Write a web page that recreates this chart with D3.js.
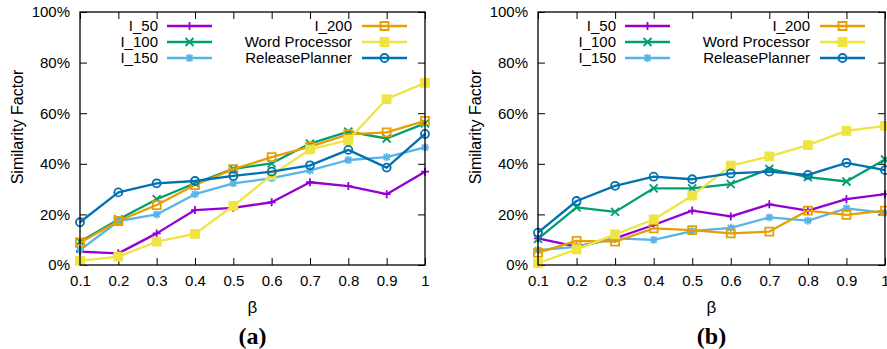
<!DOCTYPE html>
<html>
<head>
<meta charset="utf-8">
<script src="https://cdn.jsdelivr.net/npm/d3@7"></script>
<style>
  body { margin: 0; background: #fff; }
  text { font-family: "Liberation Sans", Arial, sans-serif; }
</style>
</head>
<body>
<div id="chart"></div>
<script>
// Chart dimensions.
const w = 887;
const h = 349;
const marginTop = 12;
const plotBottom = 265;

// Data
const betas = [0.1, 0.2, 0.3, 0.4, 0.5, 0.6, 0.7, 0.8, 0.9, 1.0];
const seriesNames = ["I_50", "I_100", "I_150", "I_200", "Word Processor", "ReleasePlanner"];
const seriesColors = ["#9400d3", "#009e73", "#56b4e9", "#e69f00", "#f0e442", "#0072b2"];
const seriesMarks = ["plus", "cross", "star", "square", "fsquare", "circle"];
const yTicks = [0, 20, 40, 60, 80, 100];

// panel (a)
const a_I50 = [5.3, 4.6, 12.5, 21.7, 22.6, 24.8, 32.7, 31.2, 28.0, 36.9];
const a_I100 = [9.2, 18.0, 26.0, 32.3, 38.0, 40.2, 48.0, 52.7, 50.0, 56.0];
const a_I150 = [5.9, 17.3, 20.0, 28.0, 32.3, 34.3, 37.4, 41.5, 42.6, 46.5];
const a_I200 = [8.8, 17.4, 23.7, 31.6, 37.9, 42.6, 46.8, 51.6, 52.4, 57.0];
const a_WP = [1.6, 3.3, 9.2, 12.3, 23.4, 35.5, 45.7, 49.4, 65.6, 72.0];
const a_RP = [16.9, 28.7, 32.3, 33.2, 35.2, 36.9, 39.4, 45.5, 38.5, 51.8];

// panel (b)
const b_I50 = [10.5, 7.3, 10.5, 15.8, 21.5, 19.2, 24.0, 21.5, 26.0, 28.0];
const b_I100 = [10.3, 22.8, 21.0, 30.3, 30.3, 32.0, 38.0, 34.7, 33.0, 41.7];
const b_I150 = [5.9, 7.2, 10.5, 9.9, 13.4, 14.7, 18.8, 17.5, 22.4, 20.6];
const b_I200 = [4.9, 9.5, 9.2, 14.5, 13.8, 12.5, 13.2, 21.5, 19.8, 21.5];
const b_WP = [0.7, 6.2, 12.1, 18.0, 27.4, 39.3, 42.9, 47.4, 53.0, 55.0];
const b_RP = [12.8, 25.3, 31.3, 34.9, 33.9, 36.2, 36.9, 35.6, 40.4, 37.5];

const svg = d3.select("#chart")
  .append("svg")
  .attr("width", w)
  .attr("height", h)
  .attr("viewBox", [0, 0, w, h]);

// marker paths (gnuplot point types 1..6)
function markPath(type) {
  const s = 4;
  switch (type) {
    case "plus": return `M${-s},0H${s}M0,${-s}V${s}`;
    case "cross": return `M${-s},${-s}L${s},${s}M${-s},${s}L${s},${-s}`;
    case "star": return `M${-s},0H${s}M0,${-s}V${s}M${-s + 1},${-s + 1}L${s - 1},${s - 1}M${-s + 1},${s - 1}L${s - 1},${-s + 1}`;
    case "square":
    case "fsquare": return `M${-s},${-s}H${s}V${s}H${-s}Z`;
    case "circle": return d3.arc()({ innerRadius: 0, outerRadius: s, startAngle: 0, endAngle: 2 * Math.PI });
  }
}

function drawMark(g, type, color, x, y) {
  g.append("path")
    .attr("transform", `translate(${x},${y})`)
    .attr("d", markPath(type))
    .attr("fill", type === "fsquare" ? color : "none")
    .attr("stroke", color)
    .attr("stroke-width", 1.8);
}

function drawPanel(values, left, right, label) {
  const x = d3.scaleLinear([0.1, 1.0], [left, right]);
  const y = d3.scaleLinear([0, 100], [plotBottom, marginTop]);
  const g = svg.append("g");

  // axes with inward ticks
  g.append("g")
    .attr("transform", `translate(0,${plotBottom})`)
    .call(d3.axisBottom(x).tickValues(betas).tickFormat(d => d3.format("")(+d.toFixed(1))).tickSizeInner(-7).tickSizeOuter(0).tickPadding(10))
    .call(s => s.select(".domain").remove())
    .call(s => s.selectAll("text").attr("font-size", 15).attr("fill", "#000").attr("font-family", "Liberation Sans, Arial"));
  g.append("g")
    .attr("transform", `translate(0,${marginTop})`)
    .call(d3.axisTop(x).tickValues(betas).tickFormat("").tickSizeInner(-7).tickSizeOuter(0))
    .call(s => s.select(".domain").remove());
  g.append("g")
    .attr("transform", `translate(${left},0)`)
    .call(d3.axisLeft(y).tickValues(yTicks).tickFormat(d => d + "%").tickSizeInner(-7).tickSizeOuter(0).tickPadding(10))
    .call(s => s.select(".domain").remove())
    .call(s => s.selectAll("text").attr("font-size", 15).attr("fill", "#000").attr("font-family", "Liberation Sans, Arial"));
  g.append("g")
    .attr("transform", `translate(${right},0)`)
    .call(d3.axisRight(y).tickValues(yTicks).tickFormat("").tickSizeInner(-7).tickSizeOuter(0))
    .call(s => s.select(".domain").remove());
  g.selectAll(".tick line").attr("stroke", "#000");

  // series
  const line = d3.line().x((d, i) => x(betas[i])).y(d => y(d));
  values.forEach((vals, k) => {
    g.append("path")
      .attr("d", line(vals))
      .attr("fill", "none")
      .attr("stroke", seriesColors[k])
      .attr("stroke-width", 2.3)
      .attr("stroke-linejoin", "round");
    vals.forEach((v, i) => drawMark(g, seriesMarks[k], seriesColors[k], x(betas[i]), y(v)));
  });

  // border
  g.append("rect")
    .attr("x", left).attr("y", marginTop)
    .attr("width", right - left).attr("height", plotBottom - marginTop)
    .attr("fill", "none").attr("stroke", "#000").attr("stroke-width", 1.3);

  // legend
  seriesNames.forEach((name, k) => {
    const col = k < 3 ? 0 : 1;
    const row = k % 3;
    const ly = 26 + row * 16;
    const textEnd = left + (col === 0 ? 78 : 272);
    const x1 = left + (col === 0 ? 87 : 282);
    const x2 = x1 + 45;
    g.append("text")
      .attr("x", textEnd).attr("y", ly + 5)
      .attr("text-anchor", "end")
      .attr("font-size", 15)
      .text(name);
    g.append("line")
      .attr("x1", x1).attr("x2", x2).attr("y1", ly).attr("y2", ly)
      .attr("stroke", seriesColors[k]).attr("stroke-width", 2.3);
    drawMark(g, seriesMarks[k], seriesColors[k], (x1 + x2) / 2, ly);
  });

  // axis titles
  g.append("text")
    .attr("transform", `translate(${left - 57},127) rotate(-90)`)
    .attr("text-anchor", "middle")
    .attr("font-size", 16)
    .text("Similarity Factor");
  g.append("text")
    .attr("x", (left + right) / 2).attr("y", 313)
    .attr("text-anchor", "middle")
    .attr("font-size", 17)
    .text("β");
  g.append("text")
    .attr("x", (left + right) / 2).attr("y", 344)
    .attr("text-anchor", "middle")
    .attr("font-size", 24)
    .attr("font-weight", "bold")
    .style("font-family", "Liberation Serif, Times New Roman, serif")
    .text(label);
}

drawPanel([a_I50, a_I100, a_I150, a_I200, a_WP, a_RP], 80, 425, "(a)");
drawPanel([b_I50, b_I100, b_I150, b_I200, b_WP, b_RP], 538, 885, "(b)");
</script>
</body>
</html>
